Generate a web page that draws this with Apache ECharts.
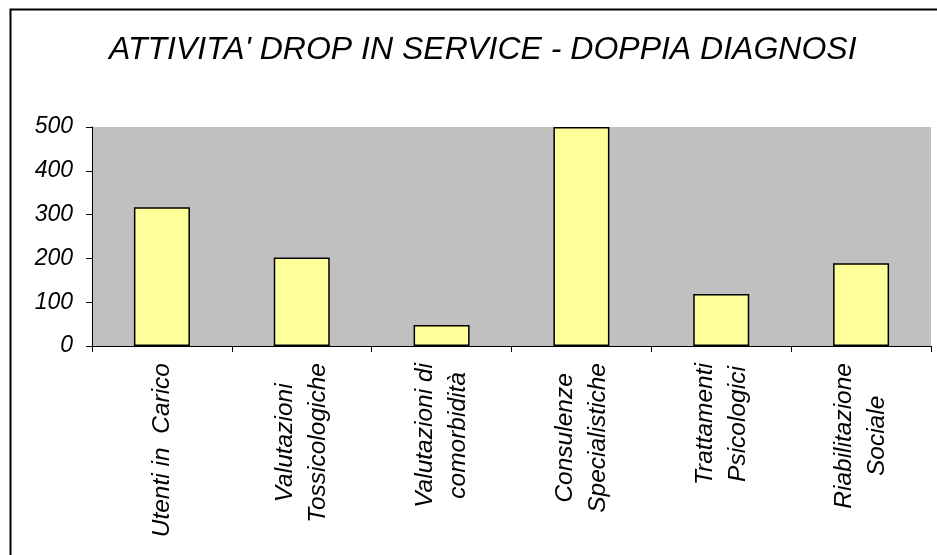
<!DOCTYPE html>
<html>
<head>
<meta charset="utf-8">
<script src="https://cdn.jsdelivr.net/npm/echarts@6/dist/echarts.min.js"></script>
<style>
  html, body { margin: 0; padding: 0; background: #fff; }
  #chart { width: 937px; height: 555px; }
</style>
</head>
<body>
<div id="chart"></div>
<script>
var titleText = "ATTIVITA' DROP IN SERVICE - DOPPIA DIAGNOSI";
var categories = [
  ["Utenti in  Carico"],
  ["Valutazioni", "Tossicologiche"],
  ["Valutazioni di", "comorbidità"],
  ["Consulenze", "Specialistiche"],
  ["Trattamenti", "Psicologici"],
  ["Riabilitazione", "Sociale"]
];
var values = [317, 202, 48, 500, 119, 189];
var yTicks = [0, 100, 200, 300, 400, 500];

var font = "'Liberation Sans', Arial, sans-serif";
var chart = echarts.init(document.getElementById("chart"));

var option = {
  animation: false,
  title: {
    text: titleText,
    left: 104,
    top: 29,
    textStyle: {
      fontFamily: font,
      fontStyle: "italic",
      fontWeight: "normal",
      fontSize: 32,
      color: "#000"
    }
  },
  graphic: [
    {
      type: "rect",
      left: 8,
      top: 7,
      shape: { width: 960, height: 580 },
      style: { fill: "none", stroke: "#000", lineWidth: 2 },
      silent: true
    }
  ],
  grid: {
    left: 92,
    right: 6,
    top: 127,
    bottom: 209,
    show: true,
    backgroundColor: "#C0C0C0",
    borderWidth: 0
  },
  xAxis: {
    type: "category",
    data: categories.map(function (c) { return c.join("\n"); }),
    axisLine: { lineStyle: { color: "#000", width: 1 } },
    axisTick: { show: true, length: 6, lineStyle: { color: "#000" } },
    axisLabel: {
      rotate: 90,
      interval: 0,
      margin: 17,
      color: "#000",
      fontFamily: font,
      fontStyle: "italic",
      fontSize: 24.5,
      lineHeight: 33,
      formatter: function (v) {
        return v.split("\n").map(function (l) { return "{c|" + l + "}"; }).join("\n");
      },
      rich: {
        c: {
          align: "center",
          fontFamily: font,
          fontStyle: "italic",
          fontSize: 24.5,
          lineHeight: 33,
          color: "#000"
        }
      }
    }
  },
  yAxis: {
    type: "value",
    min: yTicks[0],
    max: yTicks[yTicks.length - 1],
    interval: 100,
    axisLine: { show: true, lineStyle: { color: "#000", width: 1 } },
    axisTick: { show: true, length: 6, lineStyle: { color: "#000" } },
    splitLine: { show: false },
    axisLabel: {
      margin: 19,
      color: "#000",
      fontFamily: font,
      fontStyle: "italic",
      fontSize: 23
    }
  },
  series: [
    {
      type: "bar",
      data: values,
      barWidth: 56,
      itemStyle: {
        color: "#FFFF99",
        borderColor: "#000",
        borderWidth: 1.5
      }
    }
  ]
};

chart.setOption(option);
</script>
</body>
</html>
